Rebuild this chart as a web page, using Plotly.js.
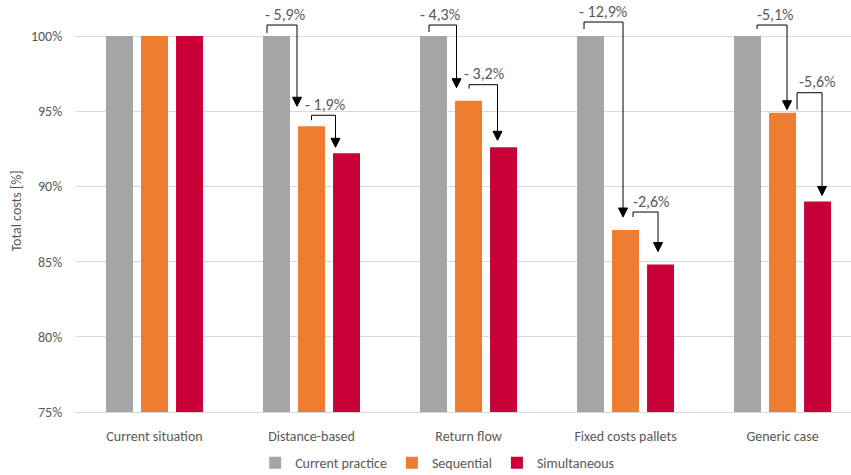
<!DOCTYPE html>
<html>
<head>
<meta charset="utf-8">
<script src="https://cdn.plot.ly/plotly-3.0.1.min.js"></script>
<style>html,body{margin:0;padding:0;background:#fff;}#chart{width:851px;height:475px;}</style>
</head>
<body>
<div id="chart"></div>
<script>
// ---- data ----
const categories = ['Current situation', 'Distance-based', 'Return flow', 'Fixed costs pallets', 'Generic case'];
const currentPractice = [100, 100, 100, 100, 100];
const sequential = [100, 94.0, 95.7, 87.1, 94.9];
const simultaneous = [100, 92.2, 92.6, 84.8, 89.0];
const seriesNames = ['Current practice', 'Sequential', 'Simultaneous'];
const yTickVals = [75, 80, 85, 90, 95, 100];
const yTickText = ['75%', '80%', '85%', '90%', '95%', '100%'];
// change labels (category index 1..4)
const labelsSeq = ['- 5,9%', '- 4,3%', '- 12,9%', '-5,1%'];
const labelsSim = ['- 1,9%', '- 3,2%', '-2,6%', '-5,6%'];

// ---- layout geometry (pixels) ----
const W = 851, H = 475;
const margin = {l: 76, r: 0, t: 10, b: 63, autoexpand: false};
const xRange = [-0.5, 4.436];
const yRange = [75, 101.73];
const plotW = W - margin.l - margin.r, plotH = H - margin.t - margin.b;
const pxX = plotW / (xRange[1] - xRange[0]);
const pxY = plotH / (yRange[1] - yRange[0]);
const X = (c, dx) => c + dx / pxX;
const Y = (v, dy) => v + dy / pxY;

// bracket geometry per bracket: [leftDx, rightDx, startDy, topDy, tipDy]
const geom1 = [[-44.5, -14.5, 3, 11, 20], [-39.5, -12, 4, 11, 13], [-41.5, -2.5, 7, 14, 13], [-25.5, 4.5, 7, 11, 3]];
const geom2 = [[0, 24, 6, 11, 6], [0.5, 29, 12, 16, 7], [7.5, 32.5, 13, 18, 13], [14.5, 39.5, 3, 20, 6]];
const labelDx1 = [3, -3, -0.5, 3];
const labelDx2 = [1.5, 1, 5.5, 7.5];

const colors = ['#A5A5A5', '#ED7D31', '#C80037'];
const txtColor = '#595959';
const font = 'Carlito, Lato, "Liberation Sans", sans-serif';

const traces = [currentPractice, sequential, simultaneous].map((vals, i) => ({
  type: 'bar', x: categories, y: vals, name: seriesNames[i],
  marker: {color: colors[i]}, hoverinfo: 'skip'
}));

const shapes = [];
const annotations = [];
function bracket(ci, fromVal, toVal, g, label, ldx) {
  const [l, r, s, t, tip] = g;
  const ah = 9, aw = 4.5;
  const x0 = X(ci, l), x1 = X(ci, r);
  const yStart = Y(fromVal, s), yTop = Y(fromVal, t);
  const yTip = Y(toVal, tip), yBase = Y(toVal, tip + ah);
  shapes.push({type: 'path', xref: 'x', yref: 'y',
    path: `M ${x0},${yStart} L ${x0},${yTop} L ${x1},${yTop} L ${x1},${yBase}`,
    line: {color: '#000', width: 1}});
  shapes.push({type: 'path', xref: 'x', yref: 'y',
    path: `M ${X(ci, r - aw)},${yBase} L ${X(ci, r + aw)},${yBase} L ${x1},${yTip} Z`,
    fillcolor: '#000', line: {color: '#000', width: 1}});
  annotations.push({xref: 'x', yref: 'y', x: X(ci, (l + r) / 2 + ldx), y: Y(fromVal, t + 11),
    text: label, showarrow: false, xanchor: 'center', yanchor: 'middle',
    font: {family: font, size: 16, color: txtColor}});
}
for (let k = 0; k < 4; k++) {
  const ci = k + 1;
  bracket(ci, currentPractice[ci], sequential[ci], geom1[k], labelsSeq[k], labelDx1[k]);
  bracket(ci, sequential[ci], simultaneous[ci], geom2[k], labelsSim[k], labelDx2[k]);
}

const layout = {
  width: W, height: H, margin: margin,
  paper_bgcolor: '#fff', plot_bgcolor: '#fff',
  font: {family: font, size: 14, color: txtColor},
  barmode: 'group', bargap: 0.331, bargroupgap: 0.23,
  showlegend: true,
  legend: {orientation: 'h', xref: 'paper', x: 0.466, xanchor: 'center',
    yref: 'container', y: 0.025, yanchor: 'middle',
    itemwidth: 30, tracegroupgap: 0,
    font: {family: font, size: 14, color: txtColor}, traceorder: 'normal'},
  xaxis: {type: 'category', range: xRange, showgrid: false, zeroline: false,
    showline: true, linecolor: '#D9D9D9', linewidth: 1,
    ticks: 'outside', ticklen: 11, tickcolor: 'rgba(0,0,0,0)',
    tickfont: {family: font, size: 14, color: txtColor}, fixedrange: true},
  yaxis: {range: yRange, tickmode: 'array', tickvals: yTickVals, ticktext: yTickText,
    showgrid: true, gridcolor: '#D9D9D9', gridwidth: 1, zeroline: false, showline: false,
    ticks: 'outside', ticklen: 10, tickcolor: 'rgba(0,0,0,0)',
    tickfont: {family: font, size: 14, color: txtColor},
    title: {text: 'Total costs [%]', font: {family: font, size: 14, color: txtColor}, standoff: 6},
    fixedrange: true},
  shapes: shapes,
  annotations: annotations
};

Plotly.newPlot('chart', traces, layout, {displayModeBar: false, staticPlot: true});
</script>
</body>
</html>
